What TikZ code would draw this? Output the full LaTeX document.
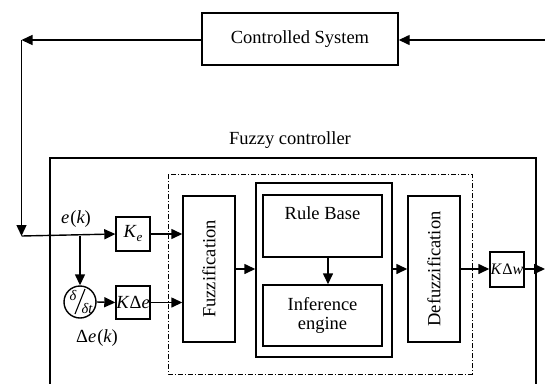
\documentclass[tikz,border=0pt]{standalone}
\usepackage{fontspec}
\setmainfont{Liberation Serif}
\usetikzlibrary{arrows.meta,calc}
\begin{document}
\begin{tikzpicture}[x=1pt,y=-1pt,
  line width=1.4pt,
  font=\fontsize{18.5}{21}\selectfont,
  arr/.style={-{Triangle[length=11pt,width=10pt]}},
  blk/.style={draw,rectangle,inner sep=0pt,align=center},
  dd/.style={line width=0.8pt,dash pattern=on 5pt off 2pt on 1pt off 2pt},
  sm/.style={inner sep=0pt,font=\fontsize{14.5}{14.5}\selectfont\itshape}]
\useasboundingbox (0,0) rectangle (545,383);
\begin{scope}
\clip (0,0) rectangle (545,383);
% controlled system
\node[blk,minimum width=196pt,minimum height=52pt] (cs) at (300,39) {Controlled System};
\coordinate (tl) at (21.5,40);
\coordinate (bl) at (21.5,236);
\coordinate (inp) at (545,40);
\draw[arr] (cs.west |- tl) -- (tl);
\draw[arr] (inp) -- (cs.east |- inp);
\draw[arr] (tl) -- (bl);
% fuzzy controller frame
\node (fclab) at (290,140) {Fuzzy controller};
\draw (50,158) rectangle (536,420);
\draw[dd] (168,174) rectangle (472,374);
% gains
\node[blk,minimum width=34pt,minimum height=34pt] (ke) at (133,234) {\itshape K\kern0.5pt\raisebox{-4pt}{\fontsize{13}{13}\selectfont e}};
\node[blk,minimum width=34pt,minimum height=33pt] (kde) at (133,302.5) {\itshape K\kern1pt\upshape Δ\itshape e};
\node[draw,circle,minimum size=32pt,inner sep=0pt] (dt) at (80,302) {};
\draw[line width=1.1pt] (85,289) -- (75,314);
\node[sm] (d1) at (73,295.5) {δ};
\node[sm] (d2) at (87,308) {δt};
\node (ek) at (76,219) {\itshape e\upshape\kern1pt(\itshape k\upshape)};
\node (dek) at (97,338) {\upshape Δ\itshape e\upshape\kern1pt(\itshape k\upshape)};
\coordinate (br) at (80,236);
\draw[arr] (bl) -- (ke.west);
\draw[arr] (br) -- (dt.north);
\draw[arr] (dt.east) -- (kde.west);
% blocks
\node[blk,minimum width=52pt,minimum height=146pt] (fz) at (209,269) {};
\node[rotate=90] at (fz.center) {Fuzzification};
\node[blk,minimum width=136pt,minimum height=174pt] (ib) at (324,270) {};
\node[blk,minimum width=119pt,minimum height=62pt] (rb) at (322.5,226) {};
\node (rbt) at (322.5,213) {Rule Base};
\node[blk,minimum width=119pt,minimum height=61pt] (ie) at (322.5,315.5) {Inference\\[-2pt]engine};
\node[blk,minimum width=52pt,minimum height=146pt] (df) at (434,269) {};
\node[rotate=90] at (df.center) {Defuzzification};
\node[blk,minimum width=34pt,minimum height=35pt,font=\fontsize{16}{18}\selectfont] (kw) at (507,269.5) {\itshape K\kern1pt\upshape Δ\itshape w};
\coordinate (outp) at (545,269);
\draw[arr] (ke.east) -- (ke.east -| fz.west);
\draw[arr] (kde.east) -- (kde.east -| fz.west);
\draw[arr] (fz.east |- 0,269) -- (ib.west |- 0,269);
\draw[arr] ([xshift=5.5pt]rb.south) -- ([xshift=5.5pt]ie.north);
\draw[arr] (ib.east |- 0,269) -- (df.west |- 0,269);
\draw[arr] (df.east |- 0,269) -- (kw.west |- 0,269);
\draw[arr] (kw.east |- outp) -- (outp);
\end{scope}
\end{tikzpicture}
\end{document}
